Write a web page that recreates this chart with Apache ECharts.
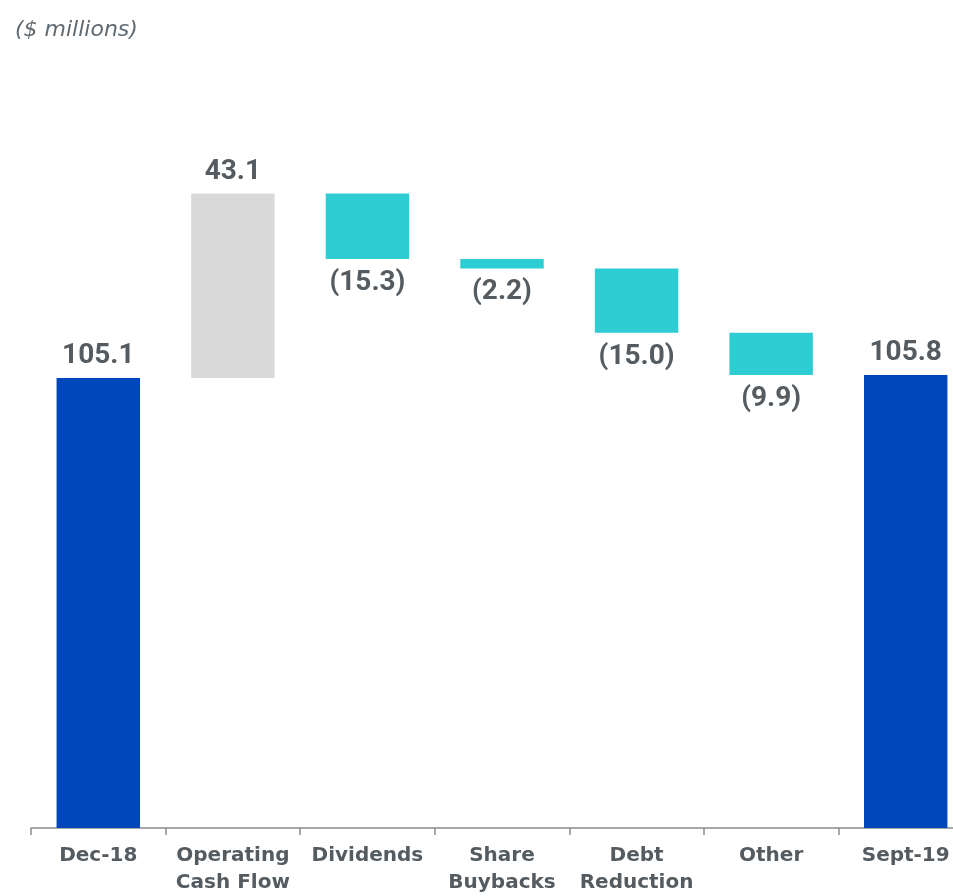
<!DOCTYPE html>
<html>
<head>
<meta charset="utf-8">
<style>
  html, body { margin: 0; padding: 0; background: #ffffff; }
  #chart { width: 953px; height: 896px; }
</style>
<script src="https://cdn.jsdelivr.net/npm/echarts@6/dist/echarts.min.js"></script>
</head>
<body>
<div id="chart"></div>
<script>
// Cash bridge, Dec-18 to Sept-19 ($ millions)
const categories = ['Dec-18', 'Operating\nCash Flow', 'Dividends', 'Share\nBuybacks', 'Debt\nReduction', 'Other', 'Sept-19'];
const changes = [105.1, 43.1, -15.3, -2.2, -15.0, -9.9, 105.8];
const isTotal = [true, false, false, false, false, false, true];

const COLOR_TOTAL = '#0047BB';
const COLOR_UP = '#D9D9D9';
const COLOR_DOWN = '#2ECDD3';
const TEXT = '#545C61';

// Running totals give the invisible base and the visible height of each step
const baseVals = [];
const barVals = [];
let running = 0;
changes.forEach((v, i) => {
  if (isTotal[i]) {
    baseVals.push(0);
    barVals.push(v);
    running = v;
  } else if (v >= 0) {
    baseVals.push(running);
    barVals.push(v);
    running += v;
  } else {
    running += v;
    baseVals.push(running);
    barVals.push(-v);
  }
});

const fmt = v => v < 0 ? '(' + Math.abs(v).toFixed(1) + ')' : v.toFixed(1);

const visibleData = barVals.map((h, i) => {
  const v = changes[i];
  const neg = !isTotal[i] && v < 0;
  return {
    value: h,
    itemStyle: { color: isTotal[i] ? COLOR_TOTAL : (v >= 0 ? COLOR_UP : COLOR_DOWN) },
    label: {
      position: neg ? 'bottom' : 'top',
      distance: neg ? 10 : 8,
      formatter: fmt(v)
    }
  };
});

const chart = echarts.init(document.getElementById('chart'));
chart.setOption({
  animation: false,
  title: {
    text: '($ millions)',
    left: 10,
    top: 14,
    textStyle: {
      fontFamily: 'DejaVu Sans, sans-serif',
      fontStyle: 'italic',
      fontWeight: 'normal',
      fontSize: 22,
      color: '#5F6A72'
    }
  },
  // the plot runs past the right edge so the last bar sits flush with it
  grid: { left: 31, width: 942, top: 143, bottom: 68, containLabel: false, outerBoundsMode: 'none' },
  xAxis: {
    type: 'category',
    data: categories,
    axisLine: { lineStyle: { color: '#8C8C8C', width: 1.5 } },
    axisTick: { show: true, length: 7, lineStyle: { color: '#8C8C8C', width: 1.5 } },
    axisLabel: {
      interval: 0,
      margin: 14,
      verticalAlign: 'top',
      fontFamily: 'DejaVu Sans, sans-serif',
      fontWeight: 'bold',
      fontSize: 20,
      lineHeight: 27,
      color: TEXT
    }
  },
  yAxis: {
    type: 'value',
    min: 0,
    max: 160,
    show: false,
    splitLine: { show: false }
  },
  series: [
    {
      type: 'bar',
      stack: 'bridge',
      data: baseVals,
      itemStyle: { color: 'transparent' },
      barWidth: '62%',
      silent: true
    },
    {
      type: 'bar',
      stack: 'bridge',
      data: visibleData,
      barWidth: '62%',
      label: {
        show: true,
        fontFamily: 'Roboto, sans-serif',
        fontWeight: 'bold',
        fontSize: 28,
        color: TEXT
      }
    }
  ]
});
</script>
</body>
</html>
